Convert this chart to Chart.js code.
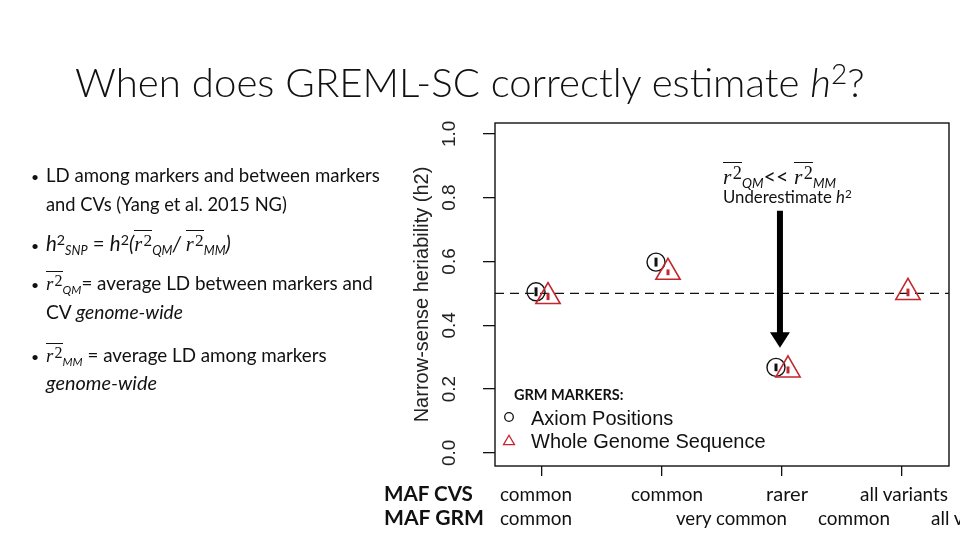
<!DOCTYPE html>
<html><head><meta charset="utf-8">
<script src="https://cdn.jsdelivr.net/npm/chart.js@4.4.1/dist/chart.umd.min.js"></script>
<style>
html,body{margin:0;padding:0;background:#fff;}
#wrap{position:relative;width:960px;height:540px;overflow:hidden;background:#fff;}
#c{position:absolute;left:0;top:0;}
.t{position:absolute;left:0;top:0;white-space:nowrap;font-family:Lato,'Noto Sans',sans-serif;color:#111;line-height:1.3;font-size:18px;}
.ov{display:inline-block;border-top:1.2px solid #111;line-height:1.0;padding-top:1px;}
.m{font-family:'Liberation Serif','DejaVu Serif',serif;font-style:italic;}
.s2{font-family:'Liberation Serif','DejaVu Serif',serif;font-style:normal;font-size:0.85em;vertical-align:0.28em;margin-left:0.08em;}
.sb{font-size:0.62em;font-style:italic;vertical-align:-0.28em;}
.sp{font-size:0.7em;vertical-align:0.45em;}
</style></head><body>
<div id="wrap">
<canvas id="c" width="960" height="540"></canvas>
</div>
<script>
// ---------------- data ----------------
const groups = [1, 2, 3, 4];
const axiomH2 = [0.505, 0.598, 0.268, null];
const axiomSE = [0.014, 0.014, 0.012, null];
const wgsH2 = [0.490, 0.566, 0.260, 0.503];
const wgsSE = [0.011, 0.009, 0.011, 0.012];
const trueH2 = 0.5;
const yTicks = [0, 0.2, 0.4, 0.6, 0.8, 1.0];
const yTickLabels = ['0.0', '0.2', '0.4', '0.6', '0.8', '1.0'];
const seriesNames = ['Axiom Positions', 'Whole Genome Sequence'];
const legendTitle = 'GRM MARKERS:';
const yTitle = 'Narrow-sense heriability (h2)';
const mafCVS = ['common', 'common', 'rarer', 'all variants'];
const mafGRM = ['common', 'very common', 'common', 'all variants'];
const rowLabels = ['MAF CVS', 'MAF GRM'];

// ---------------- layout (positions / styles) ----------------
const RED = '#c4262e';
const OFF = 0.05;
const X_MIN = 0.608, X_MAX = 4.392, Y_MIN = -0.041, Y_MAX = 1.034;
const arrow = {x: 2.983, yTop: 0.759, yHead: 0.378, yTip: 0.33};
const row1X = [500, 631, 766, 860], row1W = [72, 72, 42, 88];
const row2X = [500, 676, 818, 931], row2W = [72, 111, 72, 88];

const wrap = document.getElementById('wrap');
function addText(html, x, y, w, style) {
  const d = document.createElement('div');
  d.className = 't';
  d.innerHTML = html;
  d.dataset.x = x; d.dataset.y = y; if (w) d.dataset.w = w;
  if (style) d.style.cssText = style;
  wrap.appendChild(d);
  return d;
}
const r2 = '<span class="ov"><span class="m">r</span><span class="s2">2</span></span>';
// title
addText('When does GREML-SC correctly estimate <i>h</i><span class="sp">2</span>?', 75, 97, 790, 'font-weight:300;font-size:38px;');
// bullets
const bx = 31, tx = 46;
const bulletLines = [
  ['LD among markers and between markers', 182, 334, true],
  ['and CVs (Yang et al. 2015 NG)', 211, 241, false],
  ['<i>h</i><span class="sp">2</span><span class="sb">SNP</span> = <i>h</i><span class="sp">2</span><i>(</i>' + r2 + '<span class="sb">QM</span><i>/ </i>' + r2 + '<span class="sb">MM</span><i>)</i>', 251, 185, true],
  [r2 + '<span class="sb">QM</span>= average LD between markers and', 290, 327, true],
  ['CV <i>genome-wide</i>', 319, 137, false],
  [r2 + '<span class="sb">MM</span> = average LD among markers', 362, 281, true],
  ['<i>genome-wide</i>', 390, 111, false]
];
bulletLines.forEach(l => {
  if (l[3]) addText('•', bx, l[1], null, 'font-size:14px;');
  addText(l[0], tx, l[1], l[2], 'font-size:18px;');
});
// annotation
addText(r2 + '<span class="sb">QM</span>&lt;&lt; ' + r2 + '<span class="sb">MM</span>', 723, 184, 113, 'font-size:16px;');
addText('Underestimate <i>h</i><span class="sp">2</span>', 723, 203, 129, 'font-size:16px;');
// bottom rows
addText(rowLabels[0], 384, 501, 89, 'font-weight:700;font-size:19px;');
addText(rowLabels[1], 384, 525, 100, 'font-weight:700;font-size:19px;');
mafCVS.forEach((s, i) => addText(s, row1X[i], 501, row1W[i], 'font-size:18px;'));
mafGRM.forEach((s, i) => addText(s, row2X[i], 525, row2W[i], 'font-size:18px;'));

function placeAll() {
  document.querySelectorAll('.t').forEach(el => {
    el.style.left = el.dataset.x + 'px';
    el.style.top = '0px';
    if (el.dataset.w) {
      const fs = parseFloat(getComputedStyle(el).fontSize);
      const cw = el.getBoundingClientRect().width;
      el.style.fontSize = (fs * (+el.dataset.w) / cw).toFixed(2) + 'px';
    }
    const m = document.createElement('span');
    m.style.cssText = 'display:inline-block;width:0;height:0;vertical-align:baseline;';
    el.appendChild(m);
    const b = m.getBoundingClientRect().top - el.getBoundingClientRect().top;
    el.style.top = (+el.dataset.y - b) + 'px';
  });
}

// ---------------- chart ----------------
const drawExtras = {
  id: 'extras',
  afterDraw(chart) {
    const {ctx, chartArea: a, scales: {x, y}} = chart;
    ctx.save();
    // box
    ctx.strokeStyle = '#111'; ctx.lineWidth = 1.4;
    ctx.strokeRect(a.left, a.top, a.right - a.left, a.bottom - a.top);
    // error bars
    ctx.lineWidth = 3; ctx.lineCap = 'butt';
    groups.forEach((g, i) => {
      if (axiomH2[i] != null) {
        ctx.strokeStyle = '#111';
        const px = x.getPixelForValue(g - OFF);
        ctx.beginPath();
        ctx.moveTo(px, y.getPixelForValue(axiomH2[i] - axiomSE[i]));
        ctx.lineTo(px, y.getPixelForValue(axiomH2[i] + axiomSE[i]));
        ctx.stroke();
      }
      if (wgsH2[i] != null) {
        ctx.strokeStyle = RED;
        const px = x.getPixelForValue(g + OFF);
        ctx.beginPath();
        ctx.moveTo(px, y.getPixelForValue(wgsH2[i] - wgsSE[i]));
        ctx.lineTo(px, y.getPixelForValue(wgsH2[i] + wgsSE[i]));
        ctx.stroke();
      }
    });
    // y tick labels (rotated, R style)
    ctx.fillStyle = '#222';
    ctx.font = '19px "Liberation Sans", Arial, sans-serif';
    ctx.textAlign = 'center'; ctx.textBaseline = 'alphabetic';
    yTicks.forEach((v, i) => {
      ctx.save();
      ctx.translate(a.left - 40, y.getPixelForValue(v));
      ctx.rotate(-Math.PI / 2);
      ctx.fillText(yTickLabels[i], 0, 0);
      ctx.restore();
    });
    // y title
    ctx.font = '20px "Liberation Sans", Arial, sans-serif';
    ctx.save();
    ctx.translate(a.left - 67, (a.top + a.bottom) / 2);
    ctx.rotate(-Math.PI / 2);
    ctx.fillText(yTitle, 0, 0);
    ctx.restore();
    // arrow
    const ax = x.getPixelForValue(arrow.x);
    const yT = y.getPixelForValue(arrow.yTop), yH = y.getPixelForValue(arrow.yHead), yP = y.getPixelForValue(arrow.yTip);
    ctx.fillStyle = '#000';
    ctx.fillRect(ax - 3, yT, 6, yH - yT + 1);
    ctx.beginPath();
    ctx.moveTo(ax - 10, yH); ctx.lineTo(ax + 10, yH); ctx.lineTo(ax, yP); ctx.closePath(); ctx.fill();
    // legend
    ctx.textAlign = 'left';
    ctx.fillStyle = '#111';
    ctx.font = 'bold 14.5px Lato, "Noto Sans", sans-serif';
    ctx.fillText(legendTitle, 514, 400);
    ctx.font = '20px "Liberation Sans", Arial, sans-serif';
    ctx.fillText(seriesNames[0], 531, 425);
    ctx.fillText(seriesNames[1], 531, 448);
    ctx.lineWidth = 1.3;
    ctx.strokeStyle = '#111';
    ctx.beginPath(); ctx.arc(509, 417, 4.3, 0, Math.PI * 2); ctx.stroke();
    ctx.strokeStyle = RED;
    const tr = 6.3, tcx = 509, tcy = 441.5;
    ctx.beginPath();
    ctx.moveTo(tcx, tcy - tr);
    ctx.lineTo(tcx + tr * Math.sin(2 * Math.PI / 3), tcy + tr / 2);
    ctx.lineTo(tcx - tr * Math.sin(2 * Math.PI / 3), tcy + tr / 2);
    ctx.closePath(); ctx.stroke();
    ctx.restore();
  }
};

const axiomPts = groups.map((g, i) => axiomH2[i] == null ? null : {x: g - OFF, y: axiomH2[i]}).filter(Boolean);
const wgsPts = groups.map((g, i) => wgsH2[i] == null ? null : {x: g + OFF, y: wgsH2[i]}).filter(Boolean);

new Chart(document.getElementById('c').getContext('2d'), {
  type: 'scatter',
  data: {
    datasets: [
      {label: seriesNames[0], data: axiomPts, pointStyle: 'circle', pointRadius: 9, borderColor: '#111',
        backgroundColor: 'rgba(0,0,0,0)', pointBorderWidth: 1.4, order: 1},
      {label: seriesNames[1], data: wgsPts, pointStyle: 'triangle', pointRadius: 14, borderColor: RED,
        backgroundColor: 'rgba(0,0,0,0)', pointBorderWidth: 1.6, order: 0},
      {type: 'line', label: 'true h2', data: [{x: X_MIN, y: trueH2}, {x: X_MAX, y: trueH2}], borderColor: '#111',
        borderWidth: 1.3, borderDash: [9, 6], pointRadius: 0, fill: false, order: 2}
    ]
  },
  options: {
    responsive: false, animation: false, devicePixelRatio: 1,
    layout: {autoPadding: false, padding: {left: 0, top: 123, right: 11, bottom: 0}},
    plugins: {legend: {display: false}, tooltip: {enabled: false}},
    scales: {
      x: {type: 'linear', min: X_MIN, max: X_MAX,
        afterBuildTicks: s => { s.ticks = groups.map(v => ({value: v})); },
        ticks: {display: false},
        grid: {drawOnChartArea: false, drawTicks: true, tickLength: 10, color: '#111', lineWidth: 1.3},
        border: {display: false},
        afterFit: s => { s.height = 540 - 466; }},
      y: {type: 'linear', min: Y_MIN, max: Y_MAX,
        afterBuildTicks: s => { s.ticks = yTicks.map(v => ({value: v})); },
        ticks: {display: false},
        grid: {drawOnChartArea: false, drawTicks: true, tickLength: 12, color: '#111', lineWidth: 1.3},
        border: {display: false},
        afterFit: s => { s.width = 495; }}
    }
  },
  plugins: [drawExtras]
});

if (document.fonts && document.fonts.ready) { document.fonts.ready.then(placeAll); } else { placeAll(); }
</script>
</body></html>
